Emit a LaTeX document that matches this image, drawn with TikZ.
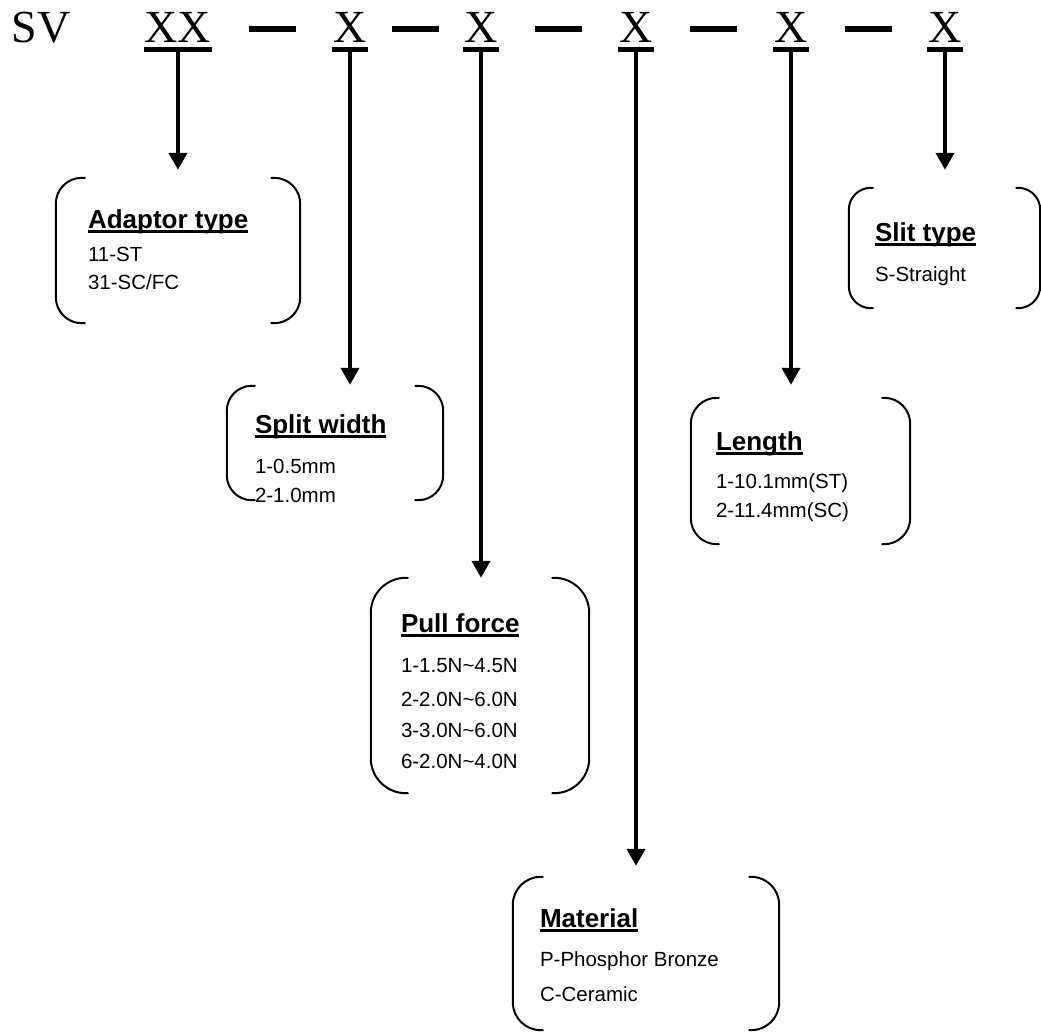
\documentclass[tikz,border=0pt]{standalone}
\usepackage{fontspec}
\setmainfont{Liberation Sans}
\newfontfamily\tmsfont{Liberation Serif}
\usetikzlibrary{arrows.meta,calc,positioning}
\newcommand\hdr[1]{{\fontsize{26}{30}\selectfont\bfseries\setbox0\hbox{#1}\rlap{\rule[-4pt]{\wd0}{2.5pt}}\box0}}

\begin{document}
\begin{tikzpicture}[x=1pt,y=-1pt,line join=round,
  code/.style={font=\tmsfont\fontsize{46}{50}\selectfont,inner sep=0pt,anchor=base},
  uline/.style={line width=5pt},
  sep/.style={line width=6pt},
  arr/.style={line width=4pt,-{Triangle[width=18pt,length=17pt]}},
  brk/.style={line width=2pt,line cap=round},
  box/.style={inner sep=0pt,minimum width=#1},
  txt/.style={font=\fontsize{20.5}{30}\selectfont,align=left,inner sep=0pt,anchor=base west}]
\useasboundingbox (0,0) rectangle (1041,1032);
% code line
\node[code] (sv) at (41,43) {SV};
\node[code] (xx) at (178,43) {XX};
\node[code] (x1) at (350,43) {X};
\node[code] (x2) at (481,43) {X};
\node[code] (x3) at (636,43) {X};
\node[code] (x4) at (791,43) {X};
\node[code] (x5) at (945,43) {X};
\foreach \a/\b in {xx/x1,x1/x2,x2/x3,x3/x4,x4/x5}{
  \draw[sep] ($($(\a.east)!0.5!(\b.west)$)+(-23.5,1)$) -- ++(47,0);}
\foreach \a in {xx,x1,x2,x3,x4,x5}{
  \draw[uline] ([xshift=-1pt,yshift=-6pt]\a.south west) -- ([xshift=1pt,yshift=-6pt]\a.south east);}
% boxes
\node[box=244pt,minimum height=145pt] (adaptor) at (178,250.5) {};
\node[box=216pt,minimum height=114pt] (split) at (335,443) {};
\node[box=218pt,minimum height=215pt] (pull) at (480,685.5) {};
\node[box=266pt,minimum height=153pt] (material) at (646,953.5) {};
\node[box=219pt,minimum height=146pt] (length) at (800.5,471) {};
\node[box=191pt,minimum height=120pt] (slit) at (944.5,248) {};
\foreach \b/\r/\s in {adaptor/26pt/29pt,split/25pt/28pt,pull/35pt/37pt,material/28pt/30pt,length/26pt/28pt,slit/22pt/24pt}{
  \draw[brk,rounded corners=\r] ([xshift=\s]\b.north west) -- (\b.north west) -- (\b.south west) -- ([xshift=\s]\b.south west);
  \draw[brk,rounded corners=\r] ([xshift=-\s]\b.north east) -- (\b.north east) -- (\b.south east) -- ([xshift=-\s]\b.south east);}
% texts (base = last line)
\node[txt] (adaptorT) at ($(adaptor.north west)+(32,112)$) {\hdr{Adaptor type}\\[3pt]11-ST\\[-2pt]31-SC/FC};
\node[txt] (splitT) at ($(split.north west)+(28,117)$) {\hdr{Split width}\\[10pt]1-0.5mm\\[-1pt]2-1.0mm};
\node[txt] (pullT) at ($(pull.north west)+(30,191)$) {\hdr{Pull force}\\[10pt]1-1.5N\textasciitilde4.5N\\[4pt]2-2.0N\textasciitilde6.0N\\[1pt]3-3.0N\textasciitilde6.0N\\[1pt]6-2.0N\textasciitilde4.0N};
\node[txt] (materialT) at ($(material.north west)+(27,125)$) {\hdr{Material}\\[9pt]P-Phosphor Bronze\\[5pt]C-Ceramic};
\node[txt] (lengthT) at ($(length.north west)+(25,120)$) {\hdr{Length}\\[8pt]1-10.1mm(ST)\\[-1pt]2-11.4mm(SC)};
\node[txt] (slitT) at ($(slit.north west)+(26,94)$) {\hdr{Slit type}\\[10pt]S-Straight};
% arrows
\foreach \a/\b/\s in {xx/adaptor/8pt,x1/split/1pt,x2/pull/0pt,x3/material/11pt,x4/length/13pt,x5/slit/18pt}{
  \draw[arr] ([yshift=-9pt]\a.south) -- ([yshift=\s]\a.south |- \b.north);}
\end{tikzpicture}
\end{document}
